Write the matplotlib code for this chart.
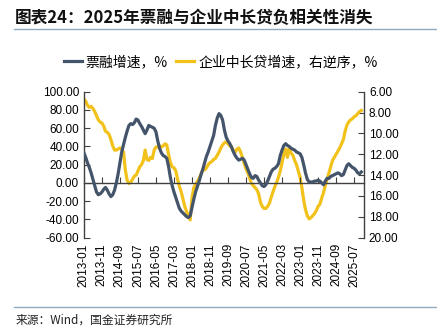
import pandas as pd
import matplotlib.pyplot as plt
from matplotlib.lines import Line2D

# 票融增速（%），2013-01 起按月
bill_growth = [33, 28, 22, 17, 11, 4, -3, -10, -13, -12,
               -10, -7, -5, -8, -12, -15, -13, -8, 0, 10,
               22, 34, 42, 50, 57, 63, 65, 64, 66, 70,
               69, 65, 62, 58, 54, 58, 63, 62, 61, 60,
               56, 46, 38, 33, 30, 29, 27, 18, 6, -3,
               -10, -16, -22, -28, -31, -33, -35, -37, -38, -36,
               -27, -18, -10, -4, 2, 9, 15, 22, 29, 34,
               40, 46, 52, 63, 71, 76, 74, 69, 58, 50,
               46, 43, 39, 34, 30, 27, 25, 26, 27, 25,
               20, 15, 10, 6, 5, 8, 7, 3, 0, -3,
               -4, -2, 2, 7, 12, 15, 16, 18, 21, 30,
               36, 41, 43, 41, 40, 38, 37, 36, 34, 33,
               32, 28, 20, 11, 4, 1, 1, 1, 2, 2,
               3, 2, 0, -2, 2, 5, 5, 7, 8, 9,
               10, 11, 10, 8, 9, 14, 19, 21, 19, 17,
               16, 14, 11, 10, 12]

# 企业中长贷增速（%，右轴逆序）
corp_loan = [6.7, 6.9, 7.3, 7.5, 7.4, 7.6, 7.9, 8.3, 8.7, 8.9,
             9.0, 9.3, 9.8, 9.9, 10.1, 10.6, 11.2, 11.6, 11.6, 11.5,
             11.4, 11.5, 11.8, 13.5, 14.5, 14.8, 14.7, 14.4, 14.1, 14.0,
             13.6, 13.2, 13.0, 12.6, 11.6, 12.5, 12.6, 12.3, 12.4, 11.6,
             11.3, 11.3, 11.2, 11.3, 11.2, 11.0, 11.1, 12.0, 12.8, 13.2,
             13.3, 13.6, 14.4, 15.1, 15.6, 16.3, 17.0, 17.5, 17.9, 18.3,
             16.2, 15.2, 14.9, 14.6, 14.3, 13.9, 13.5, 13.5, 13.3, 13.0,
             12.8, 12.7, 12.5, 12.4, 12.1, 11.8, 11.4, 11.1, 10.9, 10.8,
             11.0, 11.2, 11.3, 11.7, 11.8, 11.5, 11.4, 11.8, 12.3, 12.9,
             13.4, 13.8, 14.3, 14.8, 15.0, 15.2, 15.4, 15.8, 16.6, 17.0,
             17.2, 17.2, 17.0, 16.7, 16.1, 15.6, 15.1, 14.7, 14.2, 13.6,
             12.8, 12.0, 11.5, 12.3, 11.4, 11.9, 12.1, 12.6, 13.0, 13.6,
             14.2, 15.2, 16.4, 17.3, 17.9, 18.2, 18.1, 17.9, 17.7, 17.4,
             17.0, 16.8, 16.2, 15.7, 15.0, 14.4, 13.8, 13.2, 12.6, 12.3,
             12.0, 11.7, 11.4, 11.0, 10.6, 9.8, 9.2, 8.9, 8.7, 8.6,
             8.4, 8.3, 8.1, 7.9, 7.8]

months = pd.date_range('2013-01', periods=len(bill_growth), freq='MS').strftime('%Y-%m')
left_ticks = list(range(-60, 101, 20))
right_ticks = list(range(6, 21, 2))

DARK = '#44546A'
GOLD = '#F2C21B'
SEP = '#90AAC0'
cjk = ['Noto Sans CJK SC', 'DejaVu Sans']

plt.rcParams['font.family'] = ['Liberation Sans', 'DejaVu Sans']

fig = plt.figure(figsize=(4.37, 3.30), dpi=100)
ax = fig.add_axes([0.192, 0.28, 0.641, 0.442])
ax2 = ax.twinx()

x = range(len(bill_growth))
ax.plot(x, bill_growth, color=DARK, lw=2.3, label='票融增速，%', zorder=3)
ax2.plot(x, corp_loan, color=GOLD, lw=2.3, label='企业中长贷增速，右逆序，%')
ax.set_zorder(ax2.get_zorder() + 1)
ax.patch.set_visible(False)

ax.set_xlim(0, 155.5)
ax.set_ylim(-60, 100)
ax.set_yticks(left_ticks)
ax.set_yticklabels([f'{v:.2f}' for v in left_ticks])
ax2.set_ylim(20, 6)
ax2.set_yticks(right_ticks)
ax2.set_yticklabels([f'{v:.2f}' for v in right_ticks])

# zero line with tick marks, labels at the bottom
xt = list(range(0, len(months), 10))
ax.spines['bottom'].set_position(('data', 0))
ax.set_xticks(xt)
ax.tick_params(axis='x', direction='in', length=4, labelbottom=False, color='#404040')
sec = ax.secondary_xaxis(0)
sec.set_xticks(xt)
sec.set_xticklabels([months[i] for i in xt], rotation=90)
sec.tick_params(length=0, labelsize=8.5, pad=4)
sec.spines['bottom'].set_visible(False)

for a in (ax, ax2):
    a.spines['top'].set_visible(False)
    for s in a.spines.values():
        s.set_color('#404040')
        s.set_linewidth(1.0)
ax2.spines['bottom'].set_visible(False)
ax2.spines['left'].set_visible(False)
ax.spines['right'].set_visible(False)
ax.tick_params(axis='y', direction='in', length=4, labelsize=8.5, color='#404040')
ax2.tick_params(axis='y', direction='in', length=4, labelsize=8.5, color='#404040')

h1, l1 = ax.get_legend_handles_labels()
h2, l2 = ax2.get_legend_handles_labels()
for h in h1 + h2:
    pass
fig.legend(h1 + h2, l1 + l2, loc='center', bbox_to_anchor=(0.505, 0.812), ncol=2,
           frameon=False, prop={'family': cjk, 'size': 10}, handlelength=1.3,
           columnspacing=0.6, handletextpad=0.3)

fig.text(0.035, 0.945, '图表24：2025年票融与企业中长贷负相关性消失', family=cjk,
         fontsize=12, fontweight='bold', va='center', ha='left', color='#111111')
fig.add_artist(Line2D([0.032, 1.0], [0.912, 0.912], color=SEP, lw=1.0))
fig.add_artist(Line2D([0.032, 1.0], [0.07, 0.07], color=SEP, lw=1.0))
fig.text(0.035, 0.03, '来源：Wind，国金证券研究所', family=cjk, fontsize=8.5,
         va='center', ha='left', color='#222222')

fig.savefig('out.png', dpi=100)
